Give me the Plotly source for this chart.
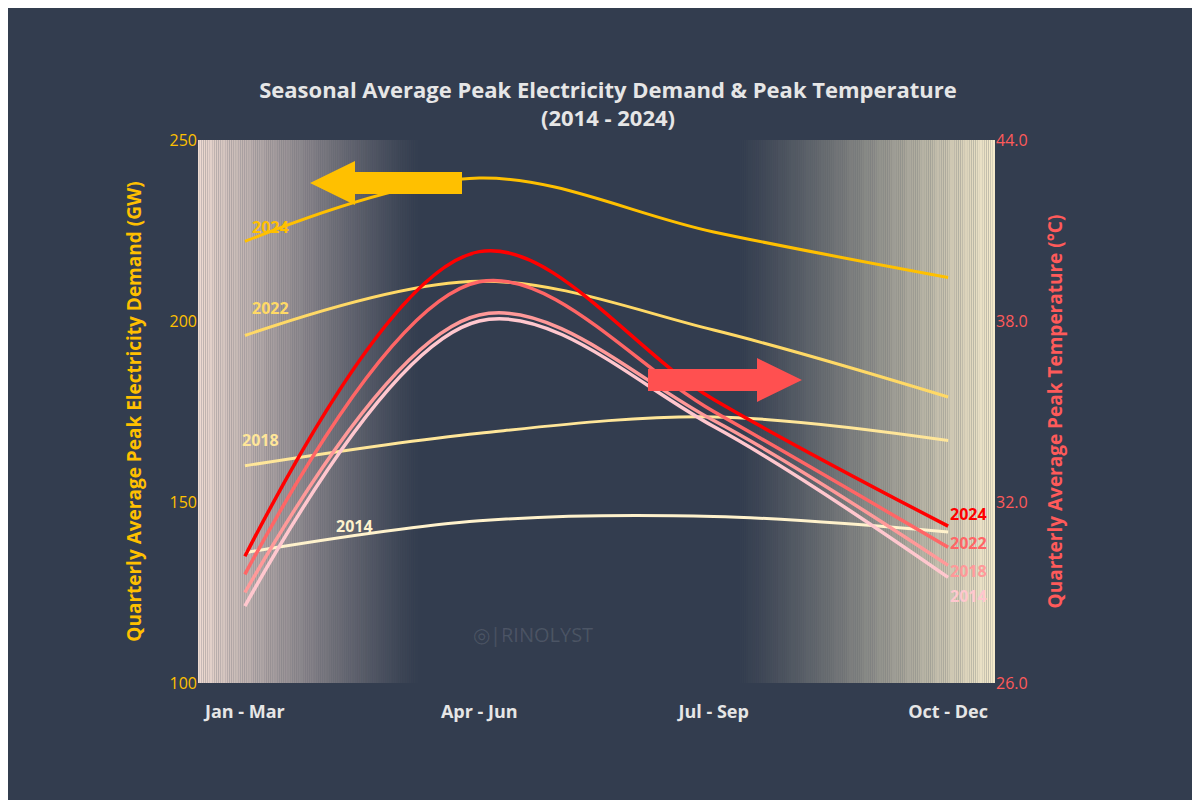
import plotly.graph_objects as go

quarters = ["Jan - Mar", "Apr - Jun", "Jul - Sep", "Oct - Dec"]
years = ["2014", "2018", "2022", "2024"]
demand = {
    "2014": [136, 144.8, 146, 141.7],
    "2018": [160, 169, 173.5, 167],
    "2022": [196, 211, 197.5, 179],
    "2024": [222, 239.5, 224.6, 212],
}
temp = {
    "2014": [28.55, 38.0, 34.5, 29.5],
    "2018": [29.0, 38.2, 34.7, 29.9],
    "2022": [29.6, 39.3, 35.0, 30.5],
    "2024": [30.2, 40.3, 35.4, 31.2],
}
dcol = {"2014": "#FFF2CC", "2018": "#FFE699", "2022": "#FFD966", "2024": "#FFC000"}
tcol = {"2014": "#FFC7CE", "2018": "#FF9999", "2022": "#FF6666", "2024": "#FF0000"}
x = [0, 1, 2, 3]

fig = go.Figure()
for y in years:
    fig.add_trace(go.Scatter(x=x, y=demand[y], mode="lines", line=dict(color=dcol[y], width=3, shape="spline", smoothing=1.0), yaxis="y", showlegend=False))
for y in years:
    fig.add_trace(go.Scatter(x=x, y=temp[y], mode="lines", line=dict(color=tcol[y], width=3.5, shape="spline", smoothing=1.0), yaxis="y2", showlegend=False))

shapes = []
N = 120
for i in range(N):
    x0 = -0.2 + i * (0.95 / N)
    shapes.append(dict(type="rect", xref="x", yref="paper", x0=x0, x1=x0 + 0.95 / N, y0=0, y1=1,
                       fillcolor="rgba(245,224,214,%.3f)" % (0.97 * (1 - i / N) ** 1.2), line_width=0, layer="below"))
for i in range(N):
    x0 = 2.1 + i * (1.1 / N)
    shapes.append(dict(type="rect", xref="x", yref="paper", x0=x0, x1=x0 + 1.1 / N, y0=0, y1=1,
                       fillcolor="rgba(251,240,208,%.3f)" % (0.97 * ((i + 1) / N) ** 1.2), line_width=0, layer="below"))
def px(xp): return (xp - 198) / 797
def py(yp): return (683 - yp) / 543
yl = 183
shapes.append(dict(type="path", xref="paper", yref="paper", line_width=0, fillcolor="#FFC000",
    path="M %f %f L %f %f L %f %f L %f %f L %f %f L %f %f L %f %f Z" % (
        px(310), py(yl), px(355), py(yl - 22), px(355), py(yl - 11), px(462), py(yl - 11),
        px(462), py(yl + 11), px(355), py(yl + 11), px(355), py(yl + 22))))
yr = 380
shapes.append(dict(type="path", xref="paper", yref="paper", line_width=0, fillcolor="#FF5050",
    path="M %f %f L %f %f L %f %f L %f %f L %f %f L %f %f L %f %f Z" % (
        px(802), py(yr), px(757), py(yr - 22), px(757), py(yr - 11), px(648), py(yr - 11),
        px(648), py(yr + 11), px(757), py(yr + 11), px(757), py(yr + 22))))

ann = []
dlab = {"2024": (0.02, 226), "2022": (0.02, 203.5), "2018": (-0.02, 167), "2014": (0.38, 143.5)}
for y, (xx, yy) in dlab.items():
    ann.append(dict(x=xx, y=yy, xref="x", yref="y", text="<b>%s</b>" % y, showarrow=False,
                    font=dict(color=dcol[y], size=16, family="Open Sans"), xanchor="left"))
tlab = {"2024": 31.6, "2022": 30.65, "2018": 29.7, "2014": 28.9}
for y, yy in tlab.items():
    ann.append(dict(x=3.0, y=yy, xref="x", yref="y2", text="<b>%s</b>" % y, showarrow=False,
                    font=dict(color=tcol[y], size=16, family="Open Sans"), xanchor="left"))
ann.append(dict(x=0.42, y=0.06, xref="paper", yref="paper", text="◎|RINOLYST", showarrow=False,
                font=dict(color="rgba(255,255,255,0.12)", size=20, family="Open Sans")))

fig.update_layout(
    width=1200, height=800,
    paper_bgcolor="#333D4F", plot_bgcolor="#333D4F",
    margin=dict(l=190, r=213, t=132, b=125),
    title=dict(text="<b>Seasonal Average Peak Electricity Demand & Peak Temperature<br>(2014 - 2024)</b>",
               x=0.5, xanchor="center", y=0.888, font=dict(color="#E6E6E6", size=22, family="Open Sans")),
    xaxis=dict(range=[-0.2, 3.2], tickvals=x, ticktext=["<b>%s</b>" % q for q in quarters], showgrid=False,
               zeroline=False, tickfont=dict(color="#E6E6E6", size=18, family="Open Sans"),
               ticks="outside", ticklen=12, tickcolor="rgba(0,0,0,0)"),
    yaxis=dict(range=[100, 250], tickvals=[100, 150, 200, 250], showgrid=False, zeroline=False,
               tickfont=dict(color="#FFC000", size=16, family="Open Sans"),
               title=dict(text="<b>Quarterly Average Peak Electricity Demand (GW)</b>", font=dict(color="#FFC000", size=19, family="Open Sans"), standoff=22)),
    yaxis2=dict(range=[26, 44], tickvals=[26, 32, 38, 44], ticktext=["26.0", "32.0", "38.0", "44.0"], overlaying="y", side="right",
                showgrid=False, zeroline=False, tickfont=dict(color="#FF5A5A", size=16, family="Open Sans"),
                title=dict(text="<b>Quarterly Average Peak Temperature (°C)</b>", font=dict(color="#FF5A5A", size=19, family="Open Sans"), standoff=22)),
    shapes=shapes, annotations=ann,
)
fig.write_html("out.html")
